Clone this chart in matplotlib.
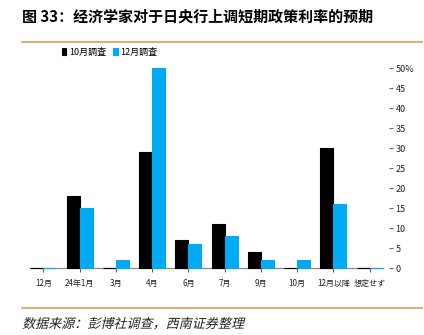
import matplotlib.pyplot as plt
import matplotlib as mpl
import numpy as np
from matplotlib.textpath import TextPath
from matplotlib.patches import PathPatch
from matplotlib.font_manager import FontProperties
from matplotlib.transforms import Affine2D

mpl.rcParams.update({
    "font.family": ["Noto Sans CJK JP", "DejaVu Sans"],
    "font.size": 7,
})

# --- data ---
categories = ["12月", "24年1月", "3月", "4月", "6月", "7月", "9月", "10月", "12月以降", "想定せず"]
oct_survey = [0, 18, 0, 29, 7, 11, 4, 0, 30, 0]
dec_survey = [0, 15, 2, 50, 6, 8, 2, 2, 16, 0]
series_names = ["10月調査", "12月調査"]
y_ticks = [0, 5, 10, 15, 20, 25, 30, 35, 40, 45, 50]

title = "图 33：经济学家对于日央行上调短期政策利率的预期"
source = "数据来源：彭博社调查，西南证券整理"

BLUE = "#00AAF5"
ORANGE = "#D9A05B"
DPI = 100

fig = plt.figure(figsize=(4.24, 3.35), dpi=DPI)
ax = fig.add_axes([30 / 424, 67 / 335, 353 / 424, 200 / 335])

x = np.arange(len(categories))
w = 0.36
ax.bar(x - w / 2, oct_survey, w, color="black", edgecolor="black", linewidth=0.8,
       label=series_names[0], zorder=3, clip_on=False)
ax.bar(x + w / 2, dec_survey, w, color=BLUE, edgecolor=BLUE, linewidth=0.8,
       label=series_names[1], zorder=3, clip_on=False)

ax.set_xlim(-0.37, len(categories) - 1 + 0.37)
ax.set_ylim(0, 50)

for s in ["top", "left", "right"]:
    ax.spines[s].set_visible(False)
ax.spines["bottom"].set_color("#888888")
ax.spines["bottom"].set_linewidth(0.9)
ax.spines["right"].set_position(("outward", 4))

ax.set_xticks(x)
ax.set_xticklabels(categories, fontsize=5.8)
ax.tick_params(axis="x", length=3, color="#666666", labelcolor="#222222", pad=5)

ax.yaxis.set_ticks_position("right")
ax.set_yticks(y_ticks)
ax.set_yticklabels([f"{v}%" if v == 50 else str(v) for v in y_ticks], fontsize=6.5)
ax.tick_params(axis="y", length=3, color="#666666", labelcolor="#222222", pad=2)

ax.legend(loc="upper left", bbox_to_anchor=(0.08, 1.12), ncol=2, frameon=False,
          fontsize=6.5, handlelength=0.5, handleheight=0.9, handletextpad=0.3,
          columnspacing=0.8, borderaxespad=0)

# header / footer
fig.text(22 / 424, 1 - 17 / 335, title, fontsize=10.8, fontweight="bold",
         va="center", ha="left", family=["Noto Sans CJK SC", "DejaVu Sans"])
fig.add_artist(plt.Line2D([22 / 424, 422 / 424], [1 - 42 / 335, 1 - 42 / 335],
                          color=ORANGE, linewidth=1.2))
fig.add_artist(plt.Line2D([22 / 424, 422 / 424], [1 - 308 / 335, 1 - 308 / 335],
                          color=ORANGE, linewidth=1.2))

# slanted source note (CJK fonts have no italic, so shear the glyph outlines)
tp = TextPath((0, 0), source, size=9.4, prop=FontProperties(family="Noto Sans CJK SC"))
shear = (Affine2D().skew_deg(14, 0).scale(DPI / 72)
         .translate(22, 335 - 328))
fig.add_artist(PathPatch(tp, transform=shear, facecolor="#222222", edgecolor="none"))

fig.savefig("out.png", dpi=DPI)
